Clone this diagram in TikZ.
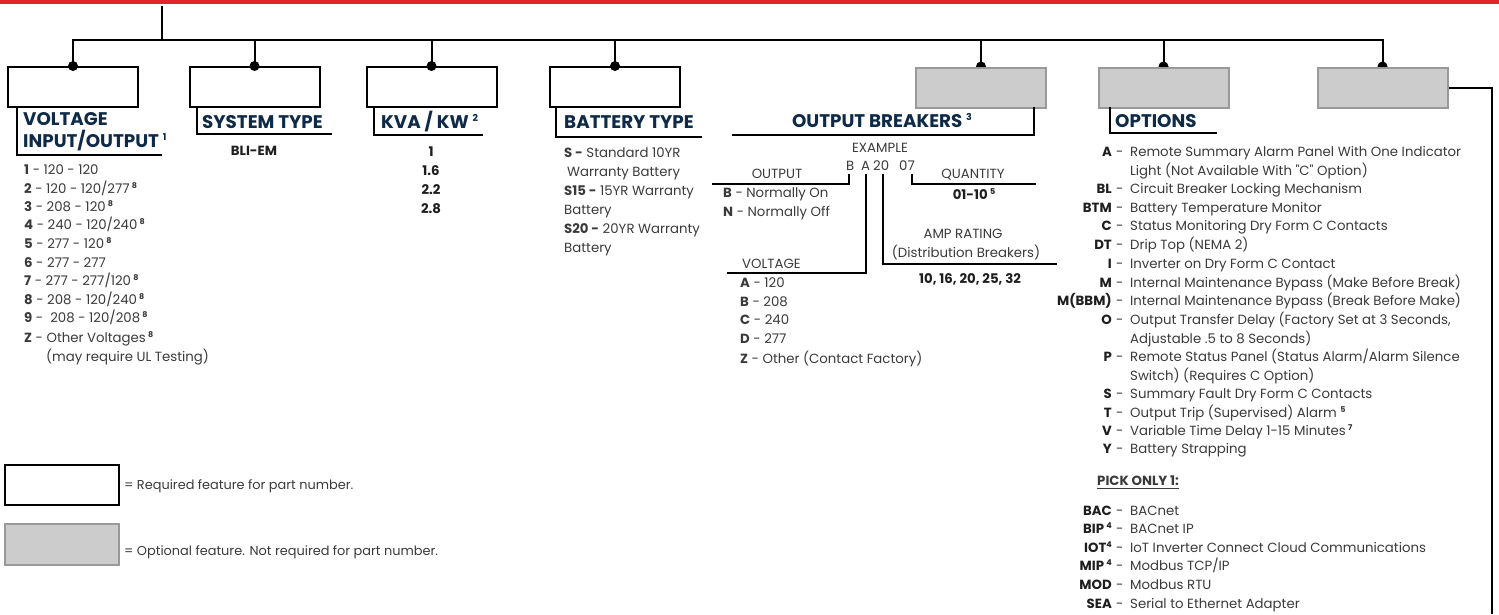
\documentclass[tikz,border=0pt]{standalone}
\usepackage{fontspec}
\setmainfont{Poppins}
\usetikzlibrary{backgrounds}
\definecolor{redbar}{HTML}{E3242B}
\definecolor{navy}{HTML}{0E2A47}
\definecolor{bodygray}{HTML}{3A3A3A}
\definecolor{codeblk}{HTML}{1E1E1E}
\definecolor{optfill}{HTML}{CCCCCC}
\definecolor{optedge}{HTML}{999999}
\newcommand\sps[1]{\raisebox{4.5pt}{\fontsize{8}{8}\selectfont\bfseries #1}}
\newcommand\tsps[1]{\raisebox{6.5pt}{\fontsize{9.5}{9.5}\selectfont\bfseries #1}}
\tikzset{
  reqbox/.style={draw=black, line width=2pt, fill=white, minimum width=130pt, minimum height=40pt, inner sep=0, anchor=north},
  optbox/.style={draw=optedge, line width=2pt, fill=optfill, minimum width=130pt, minimum height=40pt, inner sep=0, anchor=north},
  wire/.style={line width=2pt, draw=black},
  thin wire/.style={line width=1.6pt, draw=black},
  txt/.style={anchor=base west, inner sep=0, font=\fontsize{13.3}{15}\selectfont, text=bodygray},
  ctxt/.style={txt, anchor=base},
  bold/.style={txt, font=\fontsize{13.3}{15}\selectfont\bfseries, text=codeblk},
  cbold/.style={bold, anchor=base},
  code/.style={bold, anchor=base east},
  title/.style={anchor=base west, inner sep=0, font=\fontsize{18.3}{20}\selectfont\bfseries, text=navy},
  ctitle/.style={title, anchor=base},
  legtxt/.style={txt, font=\fontsize{12.9}{15}\selectfont},
}
\newcommand\optrow[4]{%
  \node[code] (#1c) at (1112,#2) {#3};
  \node[txt] (#1h) at (1116,#2) {-};
  \node[txt] (#1d) at (1130,#2) {#4};}
\begin{document}
\begin{tikzpicture}[x=1pt,y=-1pt]
\useasboundingbox (0,0) rectangle (1499,614);
\fill[redbar] (0,0) rectangle (1499,4);
% boxes
\node[reqbox] (b1) at (73,66) {};
\node[reqbox] (b2) at (254.5,66) {};
\node[reqbox] (b3) at (431.5,66) {};
\node[reqbox] (b4) at (615,66) {};
\node[optbox] (b5) at (981,66.5) {};
\node[optbox] (b6) at (1163.5,66.5) {};
\node[optbox] (b7) at (1382.5,66.5) {};
% tree
\coordinate (top) at (162,6);
\coordinate (hub) at (162,40);
\draw[wire] (top) -- (hub);
\draw[wire] (b1.north) -- (b1.north |- hub) -- (b7.north |- hub) -- (b7.north);
\foreach \b in {b2,b3,b4,b5,b6} \draw[wire] (\b.north |- hub) -- (\b.north);
\foreach \b in {b1,b2,b3,b4} \fill (\b.north) circle (5);
\begin{scope}[on background layer]
\foreach \b in {b5,b6,b7} \fill (\b.north) circle (5);
\end{scope}
% right connector
\coordinate (rend) at (1492,614);
\draw[wire] (b7.east) -| (rend);
% voltage
\draw[wire] (17,106) -- (17,155) -- (162,155);
\node[title] (t1a) at (23,125) {VOLTAGE};
\node[title] (t1b) at (23,147) {INPUT/OUTPUT \tsps{1}};
\node[txt] (v1) at (24,174) {\textbf{1} - 120 - 120};
\node[txt] (v2) at (24,193) {\textbf{2} - 120 - 120/277\,\sps{8}};
\node[txt] (v3) at (24,211) {\textbf{3} - 208 - 120\,\sps{8}};
\node[txt] (v4) at (24,229) {\textbf{4} - 240 - 120/240\,\sps{8}};
\node[txt] (v5) at (24,248) {\textbf{5} - 277 - 120\,\sps{8}};
\node[txt] (v6) at (24,267) {\textbf{6} - 277 - 277};
\node[txt] (v7) at (24,285) {\textbf{7} - 277 - 277/120\,\sps{8}};
\node[txt] (v8) at (24,304) {\textbf{8} - 208 - 120/240\,\sps{8}};
\node[txt] (v9) at (24,322) {\textbf{9} -\ \ 208 - 120/208\,\sps{8}};
\node[txt] (vz) at (24,342) {\textbf{Z} - Other Voltages\,\sps{8}};
\node[txt] (vz2) at (46,361) {(may require UL Testing)};
% system type
\draw[wire] (197,106) -- (197,134) -- (332,134);
\node[title] (t2) at (202,128) {SYSTEM TYPE};
\node[cbold] (s1) at (254,155) {BLI-EM};
% kva
\draw[wire] (374,106) -- (374,135) -- (483,135);
\node[title] (t3) at (381,128) {KVA / KW \tsps{2}};
\node[cbold] (k1) at (431,156) {1};
\node[cbold] (k2) at (431,175) {1.6};
\node[cbold] (k3) at (431,194) {2.2};
\node[cbold] (k4) at (431,213) {2.8};
% battery
\draw[wire] (556,106) -- (556,137) -- (702,137);
\node[title] (t4) at (564,128) {BATTERY TYPE};
\node[txt] (bt1) at (564,157) {\textbf{S -} Standard 10YR};
\node[txt] (bt2) at (567,176) {Warranty Battery};
\node[txt] (bt3) at (564,195) {\textbf{S15 -} 15YR Warranty};
\node[txt] (bt4) at (564,214) {Battery};
\node[txt] (bt5) at (564,233) {\textbf{S20 -} 20YR Warranty};
\node[txt] (bt6) at (564,252) {Battery};
% output breakers
\draw[wire] (732,135) -- (1034,135) -- (1034,107);
\node[ctitle] (t5) at (882,127) {OUTPUT BREAKERS \tsps{3}};
\node[ctxt] (ex) at (880,152) {EXAMPLE};
\node[txt] (exB) at (846,170) {B};
\node[txt] (exA) at (861,170) {A};
\node[txt] (ex20) at (873,170) {20};
\node[txt] (ex07) at (899,170) {07};
\draw[thin wire] (849,174) -- (849,184) -- (712,184);
\node[ctxt] (lo) at (777,178) {OUTPUT};
\node[txt] (o1) at (723,197) {\textbf{B} - Normally On};
\node[txt] (o2) at (723,216) {\textbf{N} - Normally Off};
\draw[thin wire] (866,174) -- (866,273) -- (727,273);
\node[txt] (lv) at (742,268) {VOLTAGE};
\node[txt] (ov1) at (740,287) {\textbf{A} - 120};
\node[txt] (ov2) at (740,306) {\textbf{B} - 208};
\node[txt] (ov3) at (740,324) {\textbf{C} - 240};
\node[txt] (ov4) at (740,343) {\textbf{D} - 277};
\node[txt] (ov5) at (740,363) {\textbf{Z} - Other (Contact Factory)};
\draw[thin wire] (883,174) -- (883,264) -- (1057,264);
\node[ctxt] (la) at (963,238) {AMP RATING};
\node[ctxt] (la2) at (966,257) {(Distribution Breakers)};
\node[cbold] (a1) at (970,283) {10, 16, 20, 25, 32};
\draw[thin wire] (912,174) -- (912,184) -- (1036,184);
\node[ctxt] (lq) at (973,178) {QUANTITY};
\node[cbold] (q1) at (974,199) {01-10\,\sps{5}};
% options
\draw[wire] (1110,107) -- (1110,133) -- (1217,133);
\node[title] (t6) at (1115,127) {OPTIONS};
\optrow{oa}{156}{A}{Remote Summary Alarm Panel With One Indicator}
\node[txt] (oa2) at (1130,175) {Light (Not Available With \textquotedbl C\textquotedbl\ Option)};
\optrow{obl}{193}{BL}{Circuit Breaker Locking Mechanism}
\optrow{obtm}{212}{BTM}{Battery Temperature Monitor}
\optrow{oc}{230}{C}{Status Monitoring Dry Form C Contacts}
\optrow{odt}{249}{DT}{Drip Top (NEMA 2)}
\optrow{oi}{268}{I}{Inverter on Dry Form C Contact}
\optrow{om}{287}{M}{Internal Maintenance Bypass (Make Before Break)}
\optrow{obbm}{305}{M(BBM)}{Internal Maintenance Bypass (Break Before Make)}
\optrow{oo}{324}{O}{Output Transfer Delay (Factory Set at 3 Seconds,}
\node[txt] (oo2) at (1130,343) {Adjustable .5 to 8 Seconds)};
\optrow{op}{361}{P}{Remote Status Panel (Status Alarm/Alarm Silence}
\node[txt] (op2) at (1130,380) {Switch) (Requires C Option)};
\optrow{os}{398}{S}{Summary Fault Dry Form C Contacts}
\optrow{ot}{417}{T}{Output Trip (Supervised) Alarm \sps{5}}
\optrow{ov}{435}{V}{Variable Time Delay 1-15 Minutes\,\sps{7}}
\optrow{oy}{453}{Y}{Battery Strapping}
\node[bold, font=\fontsize{13.3}{15}\selectfont\bfseries, text=bodygray] (pick) at (1097,485) {PICK ONLY 1:};
\draw[line width=1pt, bodygray] ([yshift=-3pt]pick.base west) -- ([yshift=-3pt]pick.base east);
\optrow{obac}{515}{BAC}{BACnet}
\optrow{obip}{533}{BIP\,\sps{4}}{BACnet IP}
\optrow{oiot}{552}{IOT\sps{4}}{IoT Inverter Connect Cloud Communications}
\optrow{omip}{570}{MIP\,\sps{4}}{Modbus TCP/IP}
\optrow{omod}{589}{MOD}{Modbus RTU}
\optrow{osea}{608}{SEA}{Serial to Ethernet Adapter}
% legend
\node[reqbox, minimum width=114pt, anchor=north west] (l1) at (4,464) {};
\node[legtxt] (l1t) at (124,489) {= Required feature for part number.};
\node[optbox, minimum width=114pt, minimum height=41pt, anchor=north west] (l2) at (4,523) {};
\node[legtxt] (l2t) at (124,555) {= Optional feature. Not required for part number.};
\end{tikzpicture}
\end{document}
